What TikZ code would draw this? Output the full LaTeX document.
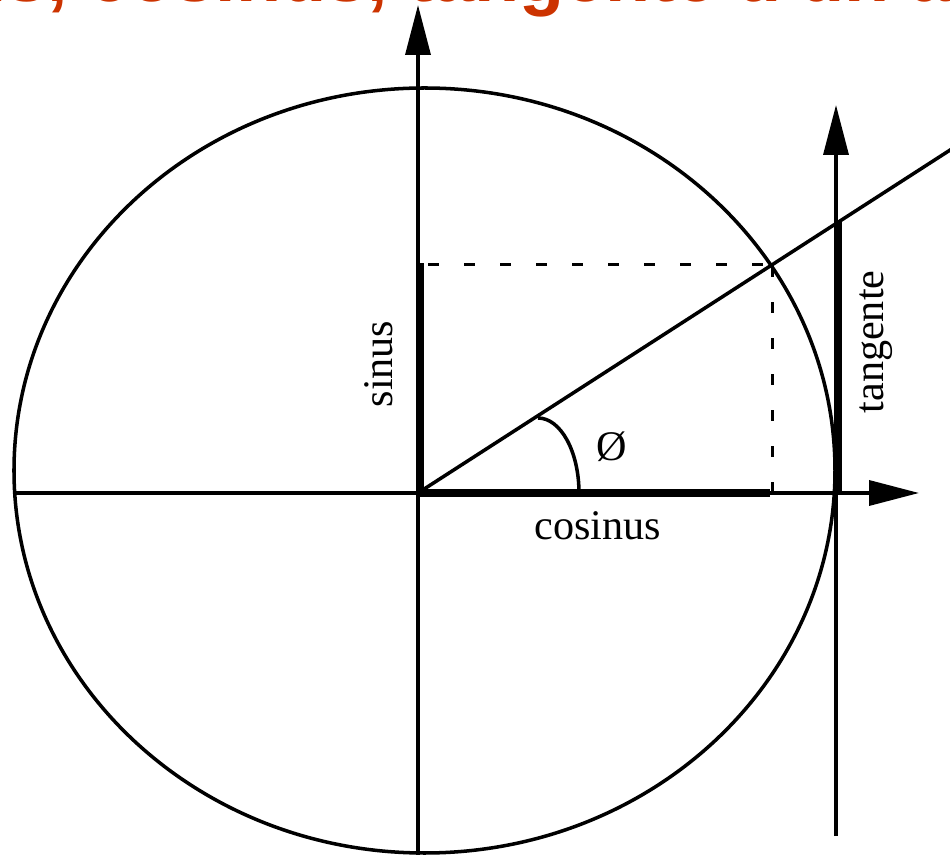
\documentclass[tikz,border=0pt]{standalone}
\usepackage{fontspec}
\setmainfont{Liberation Serif}
\newfontfamily\titlefont{Liberation Sans}
\usetikzlibrary{arrows.meta}
\definecolor{titlered}{RGB}{204,51,0}

\begin{document}
\begin{tikzpicture}[>={Triangle[length=1cm,width=0.5cm]}, line width=2pt,
  every node/.style={font=\fontsize{24}{28}\selectfont},
  seg/.style={line width=4.5pt},
  proj/.style={line width=2pt, dash pattern=on 0.22cm off 0.5cm}]

  \useasboundingbox (-8.36,-7.24) rectangle (10.64,9.86);

  % =========================
  % title (cut off at the top)
  % =========================
  \node[anchor=base west, inner sep=0pt, text=titlered,
        font=\titlefont\bfseries\fontsize{42}{48}\selectfont] (title)
    at (-11.46,9.82) {Sinus, cosinus, tangente d'un angle};

  % key points
  \coordinate (O) at (0,0);
  \coordinate (P) at (7.09,4.57);
  \coordinate (C) at (7.09,0);
  \coordinate (S) at (0,4.57);

  % circle
  \draw (0.13,0.45) ellipse (8.21 and 7.65);

  % axes
  \draw[->] (-8.1,0) -- (10.02,0);
  \draw[->] (0,-7.4) -- (0,9.76);
  \draw[->] (8.36,-6.86) -- (8.36,7.76);

  % radius
  \draw (O) -- (11,7.09);

  % projections
  \draw[proj, dash phase=0.52cm] (S) -- (P);
  \draw[proj] (C) -- (P);

  % sinus, cosinus, tangente
  \draw[seg] (0.04,0) -- (0.04,4.6);
  \draw[seg] (O) -- (7.04,0);
  \draw[seg] (8.41,0) -- (8.41,5.44);

  % angle
  \draw (2.4,1.5) arc (90:0:0.82 and 1.5);

  % labels
  \node[anchor=base] (coslab) at (3.6,-0.94) {cosinus};
  \node[anchor=base, rotate=90] (sinlab) at (-0.52,2.58) {sinus};
  \node[anchor=base, rotate=90] (tanlab) at (9.3,3.02) {tangente};
  \node (anglab) at (3.88,0.92) {Ø};

\end{tikzpicture}
\end{document}
